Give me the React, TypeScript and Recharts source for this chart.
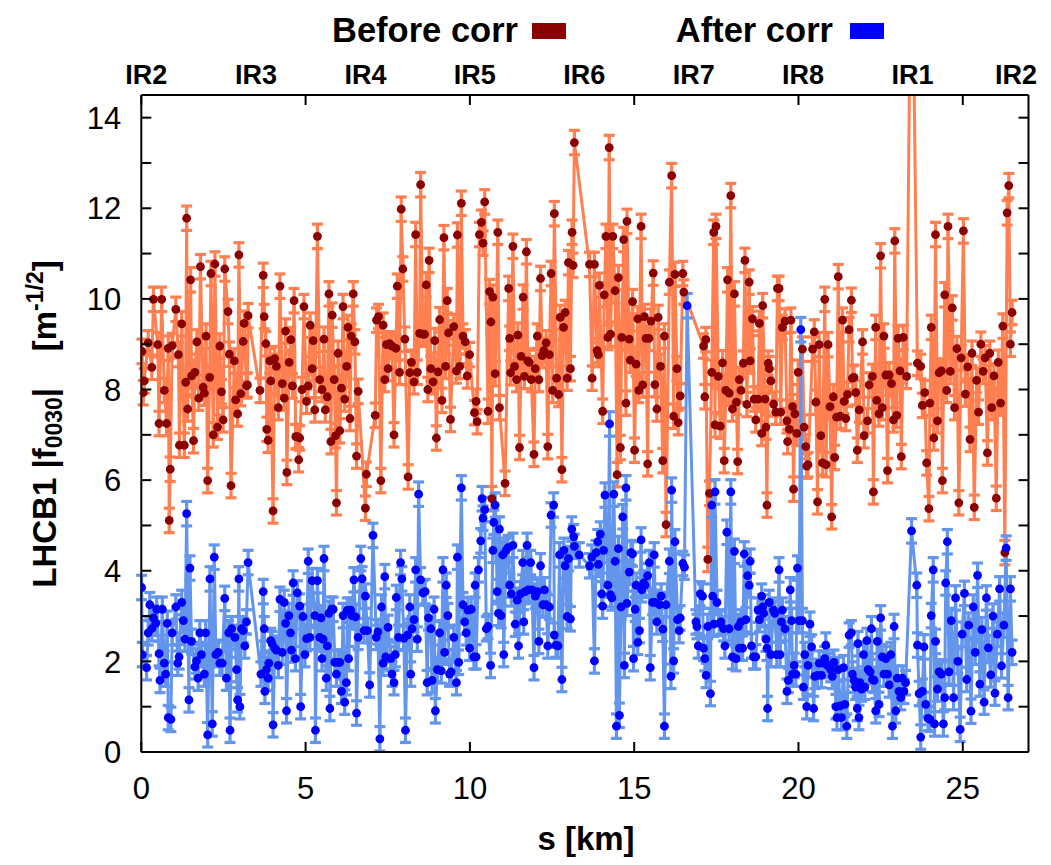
import React from 'react';
import { LineChart, Line, XAxis, YAxis, ErrorBar } from 'recharts';

// ---------- data ----------
const BEFORE: [number, number][] = [
  [0.02,8.84],[0.06,7.93],[0.09,8.19],[0.21,9.03],[0.32,8.49],[0.37,9.99],[0.50,8.99],[0.54,7.25],[0.62,9.99],[0.70,7.98],
  [0.77,7.25],[0.82,8.91],[0.85,5.11],[0.88,6.24],[0.94,8.97],[1.05,9.77],[1.13,8.77],[1.16,6.77],[1.23,9.45],[1.31,6.77],
  [1.35,8.16],[1.38,11.78],[1.41,7.57],[1.50,10.42],[1.53,8.30],[1.59,6.87],[1.63,8.38],[1.69,9.05],[1.75,7.81],[1.80,10.71],
  [1.88,8.05],[1.92,7.92],[1.97,9.18],[2.02,5.99],[2.08,8.27],[2.12,10.56],[2.19,7.00],[2.24,10.77],[2.32,7.17],[2.39,8.96],
  [2.44,7.95],[2.49,7.33],[2.54,10.66],[2.64,9.72],[2.68,8.78],[2.73,5.88],[2.83,8.63],[2.87,7.77],[2.93,7.46],[2.97,10.97],
  [3.03,7.91],[3.10,9.06],[3.13,9.46],[3.20,8.08],[3.23,8.10],[3.25,9.63],[3.61,7.98],[3.71,10.52],[3.74,9.61],[3.79,9.01],
  [3.82,7.12],[3.86,6.88],[3.91,8.63],[3.94,8.19],[4.01,5.32],[4.06,8.68],[4.11,8.51],[4.17,7.60],[4.22,10.28],[4.29,8.13],
  [4.35,7.81],[4.39,9.29],[4.43,6.17],[4.50,8.60],[4.55,9.10],[4.60,8.08],[4.65,9.96],[4.70,6.96],[4.75,6.96],[4.79,6.45],
  [4.82,6.93],[4.89,8.00],[4.95,9.83],[5.03,7.74],[5.08,8.08],[5.14,9.42],[5.20,8.46],[5.23,9.08],[5.28,7.55],[5.36,11.38],
  [5.43,8.22],[5.50,8.00],[5.56,9.11],[5.60,7.55],[5.66,7.84],[5.71,10.11],[5.77,6.85],[5.81,9.64],[5.87,8.22],[5.91,6.98],
  [5.94,5.50],[5.99,8.80],[6.04,7.09],[6.09,8.03],[6.14,9.83],[6.19,7.79],[6.25,8.51],[6.29,9.37],[6.35,7.36],[6.39,9.18],
  [6.45,10.11],[6.50,9.05],[6.55,6.53],[6.60,7.96],[6.82,5.38],[6.85,6.13],[7.12,7.43],[7.16,9.53],[7.22,9.61],[7.29,5.99],
  [7.36,9.42],[7.41,8.22],[7.46,8.99],[7.51,8.46],[7.56,9.01],[7.63,8.96],[7.69,7.00],[7.75,8.91],[7.79,10.28],[7.86,8.38],
  [7.91,11.98],[7.96,10.66],[8.02,9.11],[8.12,6.07],[8.17,8.37],[8.22,8.60],[8.30,8.17],[8.35,11.42],[8.40,8.38],[8.47,9.24],
  [8.50,12.52],[8.57,9.22],[8.62,9.22],[8.67,10.31],[8.72,8.00],[8.76,10.85],[8.81,8.46],[8.88,8.17],[8.93,9.08],[8.98,6.93],
  [9.03,8.39],[9.08,9.54],[9.15,7.76],[9.21,11.35],[9.26,8.51],[9.31,9.96],[9.35,9.25],[9.41,7.34],[9.51,9.39],[9.59,8.41],
  [9.62,11.41],[9.69,8.51],[9.74,12.11],[9.79,9.18],[9.86,9.05],[9.92,8.30],[9.99,8.77],[10.14,7.49],[10.19,7.74],[10.22,7.29],
  [10.29,11.42],[10.35,11.69],[10.40,11.23],[10.45,12.14],[10.55,7.52],[10.60,10.16],[10.64,9.49],[10.67,5.59],[10.70,10.04],[10.77,8.35],
  [10.85,11.47],[10.90,7.60],[11.07,5.93],[11.18,10.23],[11.21,9.13],[11.24,8.37],[11.31,11.16],[11.36,8.51],[11.42,8.22],[11.46,9.20],
  [11.51,6.72],[11.56,8.73],[11.62,10.04],[11.66,8.29],[11.72,11.04],[11.76,8.63],[11.81,8.60],[11.87,8.22],[11.95,6.57],[11.99,8.46],
  [12.05,9.18],[12.10,8.22],[12.15,10.45],[12.20,8.75],[12.25,8.86],[12.32,9.03],[12.37,6.74],[12.42,8.77],[12.47,10.56],[12.52,7.98],
  [12.57,11.88],[12.64,8.25],[12.70,7.89],[12.75,9.59],[12.80,6.23],[12.85,9.37],[12.90,9.70],[12.96,8.25],[13.00,10.80],[13.06,8.46],
  [13.11,11.47],[13.14,10.74],[13.18,13.45],[13.64,10.76],[13.72,8.25],[13.79,10.76],[13.87,8.86],[13.91,8.77],[13.94,10.30],[14.04,7.52],
  [14.09,10.09],[14.14,11.38],[14.20,9.15],[14.24,13.34],[14.28,9.22],[14.35,11.38],[14.42,10.18],[14.48,6.12],[14.52,10.47],[14.58,6.72],
  [14.62,9.15],[14.68,11.31],[14.75,7.70],[14.78,11.71],[14.85,9.11],[14.88,8.65],[14.95,9.94],[15.01,6.66],[15.06,8.56],[15.11,9.56],
  [15.14,7.98],[15.21,11.60],[15.26,8.10],[15.31,9.61],[15.36,9.13],[15.41,6.36],[15.45,9.13],[15.51,9.51],[15.58,10.57],[15.63,8.11],
  [15.69,7.57],[15.73,9.59],[15.80,8.51],[15.87,6.43],[15.92,9.18],[15.97,5.02],[16.07,10.37],[16.14,12.72],[16.20,7.41],[16.24,10.54],
  [16.30,8.46],[16.34,7.27],[16.40,7.86],[16.48,10.56],[16.51,10.15],[17.11,8.96],[17.15,7.84],[17.18,9.10],[17.24,4.25],[17.29,5.71],
  [17.36,8.38],[17.42,11.47],[17.46,7.22],[17.49,11.60],[17.56,8.29],[17.62,7.19],[17.69,8.59],[17.74,6.43],[17.79,7.98],[17.84,10.42],
  [17.89,7.92],[17.94,12.28],[17.99,7.57],[18.05,10.11],[18.11,7.72],[18.15,6.41],[18.20,8.22],[18.25,7.98],[18.32,8.58],[18.37,10.85],
  [18.43,7.67],[18.50,10.37],[18.53,8.63],[18.60,9.56],[18.65,7.79],[18.70,7.33],[18.77,7.79],[18.81,9.46],[18.88,7.03],[18.91,9.85],
  [18.98,7.79],[19.01,7.17],[19.04,5.45],[19.08,8.58],[19.11,8.46],[19.16,8.19],[19.24,7.68],[19.31,7.50],[19.36,10.23],[19.41,10.23],
  [19.46,7.50],[19.51,9.37],[19.59,9.51],[19.65,7.31],[19.67,6.85],[19.72,7.12],[19.77,9.53],[19.82,7.62],[19.85,5.80],[19.89,7.46],
  [19.95,7.03],[19.99,8.38],[20.12,8.89],[20.17,7.17],[20.22,6.74],[20.25,6.31],[20.29,6.34],[20.43,8.89],[20.48,9.27],[20.53,7.72],
  [20.58,5.52],[20.63,8.99],[20.68,6.98],[20.73,6.38],[20.80,9.99],[20.84,6.34],[20.90,8.99],[20.96,7.62],[21.01,5.19],[21.06,7.84],
  [21.10,6.50],[21.16,7.39],[21.21,10.49],[21.27,7.41],[21.34,9.53],[21.39,7.74],[21.44,7.36],[21.49,7.89],[21.54,9.32],[21.61,9.97],
  [21.64,8.25],[21.69,8.27],[21.74,7.93],[21.79,6.66],[21.85,7.55],[21.95,9.05],[22.00,6.98],[22.10,7.31],[22.15,8.10],[22.25,8.29],
  [22.28,5.74],[22.35,9.37],[22.38,7.76],[22.45,7.46],[22.50,10.95],[22.55,7.60],[22.60,9.18],[22.66,8.32],[22.71,6.21],[22.76,8.32],
  [22.83,8.13],[22.89,7.33],[22.93,11.28],[22.99,7.43],[23.03,9.13],[23.09,8.41],[23.13,6.52],[23.19,9.15],[23.29,8.29],[23.44,19.5],
  [23.62,8.58],[23.72,8.51],[23.77,7.65],[23.84,7.93],[23.90,6.38],[23.97,5.37],[24.00,7.70],[24.04,9.37],[24.12,6.93],[24.17,11.42],
  [24.23,7.31],[24.28,8.37],[24.35,8.41],[24.38,5.99],[24.45,10.09],[24.51,7.98],[24.55,11.60],[24.62,8.40],[24.68,9.80],[24.75,7.60],
  [24.82,8.90],[24.88,5.50],[24.95,8.70],[25.02,11.50],[25.08,7.90],[25.15,8.50],[25.22,6.90],[25.28,8.80],[25.35,5.40],[25.42,8.20],
  [25.48,7.50],[25.55,9.00],[25.62,8.40],[25.68,8.70],[25.75,6.60],[25.82,8.80],[25.88,7.60],[25.95,8.30],[26.02,5.60],[26.08,8.60],
  [26.15,7.70],[26.22,9.40],[26.28,4.40],[26.35,11.90],[26.40,12.50],[26.45,9.00],[26.50,9.70]
];

const AFTER: [number, number][] = [
  [0.01,3.63],[0.03,2.15],[0.16,1.86],[0.21,2.63],[0.26,3.25],[0.32,2.72],[0.37,2.96],[0.44,2.84],[0.47,3.15],[0.54,2.17],
  [0.57,1.58],[0.64,3.15],[0.70,1.96],[0.74,1.72],[0.79,2.84],[0.82,0.76],[0.90,0.72],[0.94,2.63],[1.05,3.20],[1.11,1.96],
  [1.15,2.10],[1.23,3.30],[1.28,2.90],[1.33,2.49],[1.38,5.26],[1.45,1.15],[1.48,4.06],[1.53,2.44],[1.63,1.88],[1.68,2.01],
  [1.73,1.63],[1.78,2.63],[1.83,2.15],[1.92,1.72],[1.96,2.63],[2.02,0.38],[2.09,3.82],[2.16,0.62],[2.22,4.30],[2.27,2.15],
  [2.34,2.20],[2.39,1.96],[2.46,1.96],[2.54,3.39],[2.59,1.63],[2.66,2.63],[2.70,0.48],[2.75,2.72],[2.85,2.53],[2.90,1.82],
  [2.93,1.15],[2.97,3.82],[3.00,1.00],[3.05,2.72],[3.10,2.68],[3.15,2.34],[3.20,2.87],[3.25,4.18],[3.64,1.72],[3.71,3.54],
  [3.74,2.72],[3.76,1.34],[3.81,1.82],[3.86,1.63],[3.88,1.96],[3.94,2.46],[3.98,2.39],[4.01,0.60],[4.06,2.29],[4.11,2.25],
  [4.17,1.91],[4.22,3.37],[4.29,2.20],[4.35,3.30],[4.39,2.84],[4.42,0.91],[4.49,3.01],[4.54,2.63],[4.57,2.25],[4.62,3.73],
  [4.69,2.06],[4.75,3.51],[4.82,3.22],[4.85,1.00],[4.92,2.99],[4.98,2.15],[5.03,2.50],[5.08,4.21],[5.13,2.53],[5.20,3.78],
  [5.28,3.01],[5.30,0.48],[5.36,3.78],[5.43,2.53],[5.47,2.96],[5.50,2.06],[5.53,2.49],[5.56,4.27],[5.63,1.63],[5.66,2.34],
  [5.71,3.06],[5.74,0.96],[5.79,3.15],[5.84,3.15],[5.89,1.98],[5.94,1.72],[5.99,1.98],[6.04,1.98],[6.09,1.34],[6.14,3.01],
  [6.19,1.10],[6.24,1.53],[6.27,3.13],[6.31,2.06],[6.37,3.13],[6.41,3.01],[6.47,3.80],[6.52,2.98],[6.55,0.86],[6.60,2.53],
  [6.68,4.27],[6.72,3.82],[6.78,2.68],[6.82,3.44],[6.88,2.68],[6.95,1.48],[7.05,4.78],[7.15,2.53],[7.20,2.65],[7.26,0.29],
  [7.31,3.20],[7.36,1.96],[7.41,3.87],[7.44,2.10],[7.51,2.75],[7.59,2.06],[7.63,1.72],[7.69,1.53],[7.73,2.15],[7.76,3.41],
  [7.83,2.53],[7.89,4.18],[7.93,3.82],[7.99,2.51],[8.04,0.48],[8.10,2.58],[8.17,3.20],[8.20,1.72],[8.24,2.72],[8.30,2.92],
  [8.35,4.02],[8.40,2.49],[8.44,5.69],[8.50,3.80],[8.57,3.51],[8.64,3.54],[8.70,1.53],[8.74,2.96],[8.81,2.72],[8.85,1.58],
  [8.91,3.15],[8.95,0.91],[9.01,1.82],[9.08,2.63],[9.13,1.79],[9.18,4.02],[9.23,2.20],[9.28,3.68],[9.33,3.01],[9.38,1.72],
  [9.43,1.77],[9.51,2.53],[9.59,1.53],[9.62,4.30],[9.66,1.98],[9.74,5.83],[9.79,3.25],[9.84,2.87],[9.89,2.63],[9.94,3.13],
  [9.99,2.29],[10.04,3.15],[10.12,2.10],[10.16,3.68],[10.19,2.10],[10.26,4.02],[10.33,4.66],[10.37,5.59],[10.40,5.16],[10.45,5.35],
  [10.50,2.72],[10.55,2.77],[10.63,1.91],[10.70,4.45],[10.73,5.07],[10.77,5.45],[10.83,3.54],[10.87,3.06],[10.90,4.92],[10.95,3.01],
  [11.00,4.35],[11.03,2.15],[11.10,4.45],[11.16,4.51],[11.21,3.68],[11.26,3.49],[11.31,4.56],[11.38,2.82],[11.44,3.35],[11.48,2.34],
  [11.54,3.49],[11.61,4.18],[11.64,2.87],[11.68,3.54],[11.74,4.56],[11.78,3.58],[11.85,4.18],[11.89,3.58],[11.95,1.86],[11.99,3.44],
  [12.05,3.54],[12.10,2.44],[12.15,4.11],[12.22,3.25],[12.27,3.58],[12.32,3.25],[12.37,2.34],[12.42,3.20],[12.47,5.23],[12.55,5.45],
  [12.57,2.58],[12.62,2.36],[12.68,2.34],[12.73,4.35],[12.80,1.60],[12.86,4.45],[12.90,4.11],[12.96,2.99],[13.00,4.27],[13.06,2.94],
  [13.10,4.92],[13.16,4.75],[13.18,4.54],[13.33,4.35],[13.64,4.11],[13.71,4.30],[13.79,2.01],[13.84,4.40],[13.89,4.64],[13.91,4.14],
  [13.97,4.81],[14.01,3.49],[14.04,3.22],[14.07,4.45],[14.11,5.67],[14.20,3.68],[14.25,7.24],[14.28,3.47],[14.32,3.40],[14.38,5.69],
  [14.42,4.21],[14.46,0.57],[14.52,4.49],[14.55,0.81],[14.60,3.20],[14.65,5.19],[14.70,1.91],[14.75,5.83],[14.78,3.28],[14.85,3.97],
  [14.90,4.40],[14.95,4.37],[14.98,2.06],[15.03,3.15],[15.06,3.68],[15.11,2.42],[15.16,2.68],[15.21,4.68],[15.23,3.58],[15.29,3.73],
  [15.33,3.68],[15.41,3.89],[15.46,4.18],[15.49,1.86],[15.56,3.30],[15.61,4.35],[15.64,3.30],[15.69,2.87],[15.77,3.25],[15.82,3.44],
  [15.87,2.71],[15.92,0.57],[15.97,3.25],[16.07,4.21],[16.12,1.67],[16.14,5.78],[16.20,2.01],[16.24,4.64],[16.32,2.92],[16.37,2.68],
  [16.40,2.96],[16.48,4.16],[16.53,4.08],[16.61,9.85],[16.88,2.87],[16.91,2.77],[16.95,2.34],[17.01,3.49],[17.08,3.44],[17.11,2.29],
  [17.15,2.06],[17.19,1.69],[17.24,2.77],[17.32,1.29],[17.36,5.45],[17.39,3.44],[17.42,2.82],[17.46,5.74],[17.52,3.30],[17.59,2.84],
  [17.64,2.87],[17.72,2.72],[17.76,2.34],[17.82,4.85],[17.89,2.72],[17.94,5.74],[17.99,2.10],[18.05,4.43],[18.10,2.06],[18.17,2.77],
  [18.20,2.29],[18.25,2.87],[18.30,2.29],[18.35,4.37],[18.40,2.92],[18.45,3.89],[18.50,3.68],[18.53,4.21],[18.57,2.34],[18.63,2.10],
  [18.70,2.10],[18.77,3.13],[18.81,2.92],[18.88,3.44],[18.91,3.20],[18.94,3.06],[19.01,2.49],[19.04,2.29],[19.06,0.96],[19.11,3.30],
  [19.16,2.15],[19.24,3.13],[19.28,3.06],[19.34,2.15],[19.41,4.02],[19.44,2.15],[19.48,2.87],[19.51,3.13],[19.59,2.72],[19.65,1.34],
  [19.69,1.58],[19.75,3.58],[19.79,2.90],[19.82,1.72],[19.87,1.91],[19.92,1.72],[19.97,4.06],[20.02,2.90],[20.07,9.32],[20.12,2.90],
  [20.15,1.43],[20.19,2.15],[20.25,1.00],[20.29,1.91],[20.35,2.82],[20.40,2.32],[20.46,0.96],[20.50,1.67],[20.58,1.69],[20.63,1.96],
  [20.70,1.69],[20.76,1.96],[20.80,2.06],[20.83,2.36],[20.88,1.91],[20.93,1.91],[20.98,1.82],[21.03,1.67],[21.08,1.98],[21.14,1.00],
  [21.17,0.76],[21.21,1.82],[21.27,1.02],[21.31,0.76],[21.37,1.86],[21.41,1.05],[21.47,0.57],[21.54,2.58],[21.61,2.63],[21.64,1.72],
  [21.69,1.58],[21.74,1.43],[21.79,0.96],[21.81,2.39],[21.84,0.76],[21.87,1.53],[21.92,1.39],[21.98,2.15],[22.02,1.43],[22.08,2.46],
  [22.12,1.82],[22.18,1.77],[22.22,2.72],[22.25,1.60],[22.30,1.58],[22.35,0.91],[22.40,2.44],[22.45,1.05],[22.50,2.96],[22.55,2.10],
  [22.60,1.72],[22.66,2.06],[22.71,1.72],[22.76,1.48],[22.81,2.15],[22.86,0.57],[22.91,2.77],[22.96,0.91],[23.01,1.63],[23.06,1.34],
  [23.11,1.20],[23.16,1.63],[23.21,1.34],[23.26,1.53],[23.44,4.88],[23.60,3.68],[23.62,2.36],[23.67,1.29],[23.72,0.33],[23.77,1.34],
  [23.82,2.32],[23.87,1.05],[23.94,0.74],[24.00,0.72],[24.04,3.01],[24.10,4.02],[24.14,0.62],[24.17,2.44],[24.23,1.39],[24.28,1.77],
  [24.35,1.72],[24.41,0.62],[24.45,1.20],[24.48,3.73],[24.53,4.64],[24.58,1.77],[24.65,2.90],[24.72,1.20],[24.78,3.40],[24.85,2.00],
  [24.92,0.50],[24.98,2.60],[25.05,3.50],[25.12,1.60],[25.18,2.80],[25.25,0.90],[25.32,3.20],[25.38,2.20],[25.45,3.90],[25.52,1.50],
  [25.58,2.70],[25.65,1.10],[25.72,3.40],[25.78,2.30],[25.85,1.70],[25.92,3.00],[25.98,1.30],[26.05,2.60],[26.12,3.60],[26.18,1.90],
  [26.25,2.80],[26.32,4.50],[26.38,1.20],[26.45,3.60],[26.50,2.20]
];

const ERR_BEFORE = 0.27;
const ERR_AFTER = 0.27;

const X_TICKS = [0, 5, 10, 15, 20, 25];
const Y_TICKS = [0, 1, 2, 3, 4, 5, 6, 7, 8, 9, 10, 11, 12, 13, 14];
const IR_NAMES = ['IR2', 'IR3', 'IR4', 'IR5', 'IR6', 'IR7', 'IR8', 'IR1', 'IR2'];
const IR_POS = [0.15, 3.49, 6.82, 10.15, 13.48, 16.81, 20.14, 23.47, 26.62];

const LEGEND_LABELS = ['Before corr', 'After corr'];
const X_TITLE = 's [km]';

// ---------- style / layout ----------
const FONT = '"Liberation Sans", Arial, Helvetica, sans-serif';
const TICK_LEN = 10;
const BOTTOM_GAP = 36;
const LEFT_GAP = 20;
const C_BEFORE_LINE = '#ff7f50';
const C_BEFORE_DOT = '#8b0000';
const C_AFTER_LINE = '#6495ed';
const C_AFTER_DOT = '#0000ff';

const beforeData = BEFORE.map(([s, v]) => ({ s, v, e: ERR_BEFORE }));
const afterData = AFTER.map(([s, v]) => ({ s, v, e: ERR_AFTER }));
const TOP_TICKS = Array.from(new Set([...X_TICKS, ...IR_POS])).sort((a, b) => a - b);

function BottomTick(props: any) {
  const { x, y, payload } = props;
  const ay = y - BOTTOM_GAP;
  return (
    <g>
      <line x1={x} x2={x} y1={ay} y2={ay - TICK_LEN} stroke="#000" strokeWidth={2} />
      <text x={x} y={y} dy="0.36em" textAnchor="middle" fontSize={31} fontFamily={FONT} fill="#000">
        {payload.value}
      </text>
    </g>
  );
}

function TopTick(props: any) {
  const { x, y, payload } = props;
  const v = payload.value;
  const isMajor = X_TICKS.includes(v);
  const ir = IR_POS.indexOf(v);
  return (
    <g>
      {isMajor && <line x1={x} x2={x} y1={y} y2={y + TICK_LEN} stroke="#000" strokeWidth={2} />}
      {ir >= 0 && (
        <text x={x} y={y - 11} textAnchor="middle" fontSize={27} fontWeight="bold" fontFamily={FONT} fill="#000">
          {IR_NAMES[ir]}
        </text>
      )}
    </g>
  );
}

function LeftTick(props: any) {
  const { x, y, payload } = props;
  const ax = x + LEFT_GAP;
  return (
    <g>
      <line x1={ax} x2={ax + TICK_LEN} y1={y} y2={y} stroke="#000" strokeWidth={2} />
      {payload.value % 2 === 0 && (
        <text x={x} y={y} dy="0.36em" textAnchor="end" fontSize={31} fontFamily={FONT} fill="#000">
          {payload.value}
        </text>
      )}
    </g>
  );
}

function RightTick(props: any) {
  const { x, y } = props;
  return <line x1={x} x2={x - TICK_LEN} y1={y} y2={y} stroke="#000" strokeWidth={2} />;
}

export default function App() {
  const axisLine = { stroke: '#000', strokeWidth: 2 };
  return (
    <div style={{ position: 'absolute', left: 0, top: 0, width: 1051, height: 865, background: '#fff' }}>
      <LineChart width={1051} height={865} margin={{ top: 55, right: 12.5, bottom: 53, left: 41.3 }}>
        <XAxis xAxisId="b" type="number" dataKey="s" domain={[0, 27]} ticks={X_TICKS} interval={0}
          height={60} tickSize={0} tickMargin={BOTTOM_GAP} tickLine={false} tick={(p: any) => <BottomTick {...p} />}
          axisLine={axisLine} allowDataOverflow />
        <XAxis xAxisId="t" orientation="top" type="number" dataKey="s" domain={[0, 27]} ticks={TOP_TICKS} interval={0}
          height={40} tickSize={0} tickMargin={0} tickLine={false} tick={(p: any) => <TopTick {...p} />}
          axisLine={axisLine} allowDataOverflow />
        <YAxis yAxisId="l" type="number" domain={[0, 14.5]} ticks={Y_TICKS} interval={0} width={100}
          tickSize={0} tickMargin={LEFT_GAP} tickLine={false} tick={(p: any) => <LeftTick {...p} />}
          axisLine={axisLine} allowDataOverflow />
        <YAxis yAxisId="r" orientation="right" type="number" domain={[0, 14.5]} ticks={Y_TICKS} interval={0} width={10}
          tickSize={0} tickMargin={0} tickLine={false} tick={(p: any) => <RightTick {...p} />}
          axisLine={axisLine} allowDataOverflow />
        <Line xAxisId="b" yAxisId="l" data={beforeData} dataKey="v" type="linear" stroke={C_BEFORE_LINE}
          strokeWidth={3} isAnimationActive={false} activeDot={false}
          dot={{ r: 4.4, fill: C_BEFORE_DOT, stroke: C_BEFORE_DOT, strokeWidth: 0 }}>
          <ErrorBar dataKey="e" direction="y" width={5.5} strokeWidth={3.2} stroke={C_BEFORE_LINE} isAnimationActive={false} />
        </Line>
        <Line xAxisId="b" yAxisId="l" data={afterData} dataKey="v" type="linear" stroke={C_AFTER_LINE}
          strokeWidth={3} isAnimationActive={false} activeDot={false}
          dot={{ r: 4.4, fill: C_AFTER_DOT, stroke: C_AFTER_DOT, strokeWidth: 0 }}>
          <ErrorBar dataKey="e" direction="y" width={5.5} strokeWidth={3.2} stroke={C_AFTER_LINE} isAnimationActive={false} />
        </Line>
      </LineChart>
      <svg width={1051} height={865} style={{ position: 'absolute', left: 0, top: 0, pointerEvents: 'none' }}>
        <g fontFamily={FONT} fontWeight="bold" fill="#000">
          <text x={518} y={42} textAnchor="end" fontSize={34.5}>{LEGEND_LABELS[0]}</text>
          <rect x={532} y={23} width={34} height={16} fill={C_BEFORE_DOT} />
          <text x={833} y={42} textAnchor="end" fontSize={34.5}>{LEGEND_LABELS[1]}</text>
          <rect x={850} y={23} width={34} height={16} fill={C_AFTER_DOT} />
          <text x={586} y={850} textAnchor="middle" fontSize={33}>{X_TITLE}</text>
          <text transform="rotate(-90)" x={-424} y={56} textAnchor="middle" fontSize={33}>
            LHCB1 |f<tspan fontSize={23} dy={6}>0030</tspan>
            <tspan dy={-6}>|{'\u00a0\u00a0\u00a0\u00a0'}[m</tspan>
            <tspan fontSize={23} dy={-13}>-1/2</tspan>
            <tspan dy={13}>]</tspan>
          </text>
        </g>
      </svg>
    </div>
  );
}
